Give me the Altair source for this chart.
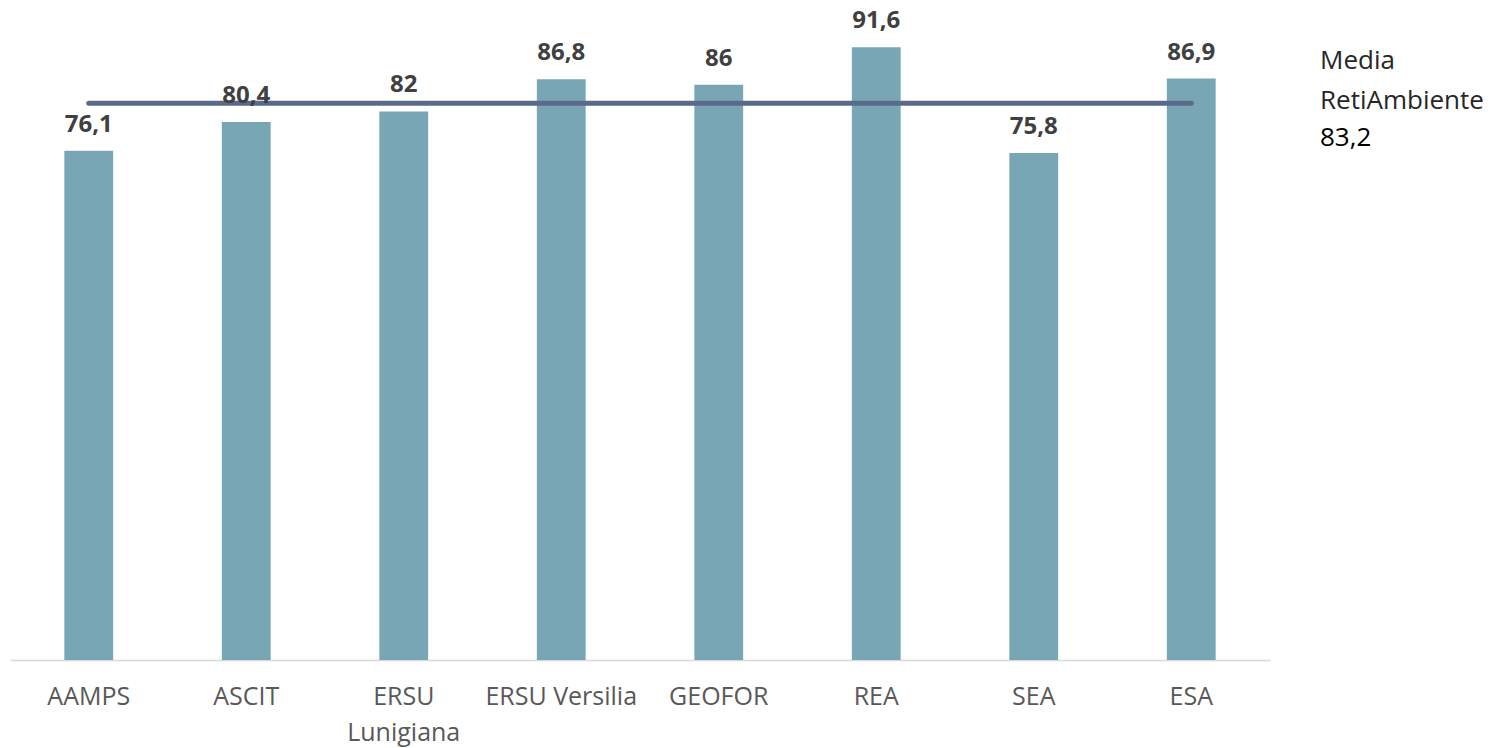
import altair as alt
import pandas as pd

categories = ["AAMPS", "ASCIT", "ERSU Lunigiana", "ERSU Versilia", "GEOFOR", "REA", "SEA", "ESA"]
values = [76.1, 80.4, 82, 86.8, 86, 91.6, 75.8, 86.9]
media_value = 83.2
media_title = ["Media", "RetiAmbiente"]

FONT = "Open Sans"
df = pd.DataFrame({"cat": categories, "value": values})
avg_df = pd.DataFrame({"cat": [categories[0], categories[-1]], "value": [media_value, media_value]})

x_enc = alt.X(
    "cat:N",
    sort=categories,
    scale=alt.Scale(paddingInner=0.69, paddingOuter=0.345),
    axis=alt.Axis(
        title=None,
        labelAngle=0,
        labelFont=FONT,
        labelFontSize=25,
        labelColor="#595959",
        labelPadding=24,
        labelLineHeight=36,
        labelExpr="datum.label == 'ERSU Lunigiana' ? ['ERSU', 'Lunigiana'] : datum.label",
        ticks=False,
        domainColor="#d9d9d9",
        domainWidth=1.5,
        grid=False,
    ),
)
y_scale = alt.Scale(domain=[0, 96.26], nice=False)
y_enc = alt.Y("value:Q", scale=y_scale, axis=None)

bars = alt.Chart(df).mark_bar(color="#78a6b5").encode(x=x_enc, y=y_enc)

labels = alt.Chart(df).transform_calculate(
    lab="replace(format(datum.value, '.1~f'), '.', ',')"
).mark_text(
    font=FONT, fontSize=24, fontWeight="bold", color="#404040", baseline="alphabetic", dy=-19
).encode(x=alt.X("cat:N", sort=categories), y=y_enc, text="lab:N")

avg_line = alt.Chart(avg_df).mark_line(
    color="#5a6a8a", strokeWidth=5, strokeCap="round"
).encode(x=alt.X("cat:N", sort=categories), y=y_enc)

side_rows = [
    (media_title[0], 53, "#262626"),
    (media_title[1], 93, "#262626"),
    (str(media_value).replace(".", ","), 130, "#000000"),
]
side_layers = [
    alt.Chart(pd.DataFrame({"txt": [t]})).mark_text(
        font=FONT, fontSize=26, align="left", baseline="alphabetic", color=c
    ).encode(x=alt.value(1310), y=alt.value(yy), text="txt:N")
    for t, yy, c in side_rows
]

chart = alt.layer(bars, avg_line, labels, *side_layers).properties(
    width=1260,
    height=644,
    autosize=alt.AutoSizeParams(type="none"),
    padding={"left": 2, "top": 8, "right": 230, "bottom": 88},
).configure_view(stroke=None)

chart.save("out.html", embed_options={"renderer": "svg", "actions": False})
